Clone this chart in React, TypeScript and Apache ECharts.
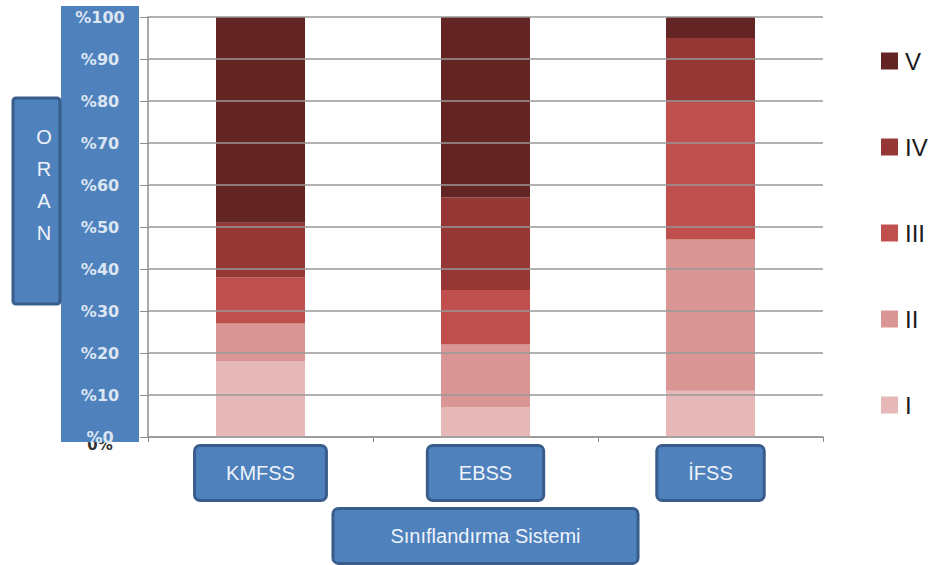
import React, { useEffect, useRef } from "react";
import * as echarts from "echarts";

const categories = ["KMFSS", "EBSS", "İFSS"];
const seriesNames = ["I", "II", "III", "IV", "V"];
const valuesI = [18, 7, 11];
const valuesII = [9, 15, 36];
const valuesIII = [11, 13, 33];
const valuesIV = [13, 22, 15];
const valuesV = [49, 43, 5];
const seriesValues = [valuesI, valuesII, valuesIII, valuesIV, valuesV];
const seriesColors = ["#E6B9B8", "#D99694", "#C0504D", "#953735", "#632523"];
const yAxisTitle = ["O", "R", "A", "N"];
const xAxisTitle = "Sınıflandırma Sistemi";

const BOX_FILL = "#4F81BD";
const BOX_BORDER = "#385D8A";
const BOX_TEXT = "#EEF3FA";

export default function App() {
  const ref = useRef<HTMLDivElement>(null);
  useEffect(() => {
    if (!ref.current) return;
    const chart = echarts.init(ref.current, null, { renderer: "svg" });
    const boxLabel = {
      color: BOX_TEXT,
      fontFamily: "Liberation Sans",
      fontSize: 20,
      lineHeight: 24,
      backgroundColor: BOX_FILL,
      borderColor: BOX_BORDER,
      borderWidth: 3,
      borderRadius: 4,
    };
    chart.setOption({
      animation: false,
      backgroundColor: "#ffffff",
      grid: {
        left: 148,
        right: 108,
        top: 17,
        bottom: 128,
        containLabel: false,
        outerBoundsMode: "none",
      },
      legend: {
        orient: "vertical",
        left: 876,
        top: 44,
        itemGap: 62,
        itemWidth: 17,
        itemHeight: 17,
        icon: "rect",
        data: seriesNames.slice().reverse(),
        textStyle: {
          color: "#1a1a1a",
          fontFamily: "Liberation Sans",
          fontSize: 24,
          padding: [0, 0, 0, 2],
        },
      },
      xAxis: {
        type: "category",
        data: categories,
        boundaryGap: true,
        axisLine: { lineStyle: { color: "#8c8c8c", width: 1.5 } },
        axisTick: { show: true, length: 5, lineStyle: { color: "#8c8c8c" } },
        axisLabel: {
          ...boxLabel,
          margin: 10,
          padding: [14, 30, 14, 30],
        },
        name: xAxisTitle,
        nameLocation: "middle",
        nameGap: 69,
        nameTextStyle: {
          ...boxLabel,
          padding: [14, 56, 14, 56],
        },
      },
      yAxis: {
        type: "value",
        min: 0,
        max: 100,
        interval: 10,
        z: 5,
        axisLine: { show: true, lineStyle: { color: "#8c8c8c", width: 1.5 } },
        axisTick: { show: true, length: 8, lineStyle: { color: "#8c8c8c" } },
        splitLine: { show: true, lineStyle: { color: "#999999", width: 1.5 } },
        axisLabel: {
          formatter: "%{value}",
          align: "center",
          margin: 48,
          color: "#DCE6F2",
          fontFamily: "DejaVu Sans",
          fontWeight: "bold",
          fontSize: 16,
          padding: [0, 0, 6, 0],
        },
      },
      series: seriesNames.map((name, i) => ({
        name,
        type: "bar",
        stack: "total",
        barWidth: 89,
        data: seriesValues[i],
        itemStyle: { color: seriesColors[i] },
      })),
      graphic: [
        {
          type: "text",
          z: -2,
          style: {
            text: "0%",
            x: 100,
            y: 445,
            align: "center",
            verticalAlign: "middle",
            fill: "#333333",
            fontFamily: "DejaVu Sans",
            fontWeight: "bold",
            fontSize: 15,
          },
        },
        {
          type: "rect",
          z: -1,
          shape: { x: 61, y: 6, width: 78, height: 436 },
          style: { fill: BOX_FILL },
        },
        {
          type: "rect",
          z: -1,
          shape: { x: 13, y: 98, width: 47, height: 206, r: 3 },
          style: { fill: BOX_FILL, stroke: BOX_BORDER, lineWidth: 3 },
        },
        ...yAxisTitle.map((ch, i) => ({
          type: "text",
          z: 1,
          style: {
            text: ch,
            x: 44,
            y: 137 + i * 32,
            align: "center",
            verticalAlign: "middle",
            fill: BOX_TEXT,
            fontFamily: "Liberation Sans",
            fontSize: 20,
          },
        })),
      ],
    });
    return () => chart.dispose();
  }, []);
  return (
    <div
      ref={ref}
      style={{ position: "fixed", left: 0, top: 0, width: 931, height: 565 }}
    />
  );
}
